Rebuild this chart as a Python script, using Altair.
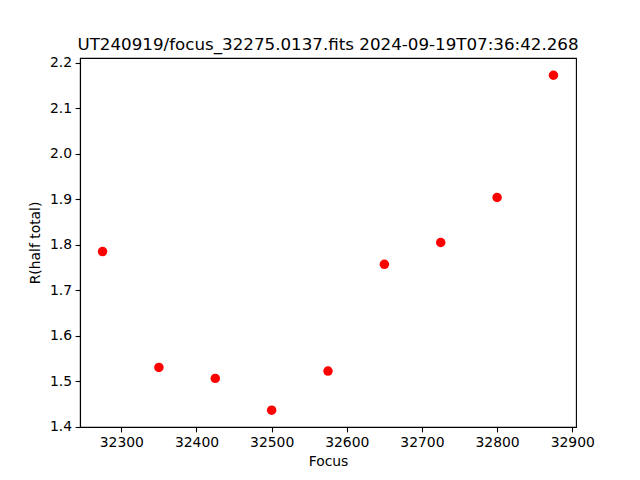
import altair as alt
import pandas as pd

focus = [32275, 32350, 32425, 32500, 32575, 32650, 32725, 32800, 32875]
r_half = [1.785, 1.530, 1.506, 1.436, 1.522, 1.757, 1.805, 1.904, 2.173]

x_ticks = [32300, 32400, 32500, 32600, 32700, 32800, 32900]
y_ticks = [1.4, 1.5, 1.6, 1.7, 1.8, 1.9, 2.0, 2.1, 2.2]

df = pd.DataFrame({"Focus": focus, "R": r_half})

FONT = "DejaVu Sans"

chart = alt.Chart(df).mark_point(
    filled=True, shape="circle", size=90, color="#ff0000", opacity=1
).encode(
    x=alt.X("Focus:Q",
            scale=alt.Scale(domain=[32245, 32905], nice=False, zero=False),
            axis=alt.Axis(values=x_ticks, format="d", title="Focus")),
    y=alt.Y("R:Q",
            scale=alt.Scale(domain=[1.399, 2.211], nice=False, zero=False),
            axis=alt.Axis(values=y_ticks, format=".1f", title="R(half total)")),
).properties(
    width=496,
    height=369,
    title=alt.TitleParams(
        "UT240919/focus_32275.0137.fits 2024-09-19T07:36:42.268",
        font=FONT, fontSize=16.7, fontWeight="normal", color="black",
        anchor="middle", offset=2,
    ),
    padding={"left": 72, "top": 50, "right": 56, "bottom": 45},
    autosize=alt.AutoSizeParams(type="none"),
).configure_view(
    stroke="black", strokeWidth=1.1
).configure_axis(
    grid=False,
    domain=True, domainColor="black", domainWidth=1.1,
    ticks=True, tickColor="black", tickWidth=1.1, tickSize=4.9,
    labelFont=FONT, labelFontSize=13.9, labelColor="black", labelPadding=3.5,
    titleFont=FONT, titleFontSize=13.9, titleFontWeight="normal", titleColor="black",
    labelFlush=False, labelOverlap=False,
).configure_axisX(
    titlePadding=5,
).configure_axisY(
    titlePadding=7,
)

chart.save("out.html", embed_options={"renderer": "svg", "actions": False})
